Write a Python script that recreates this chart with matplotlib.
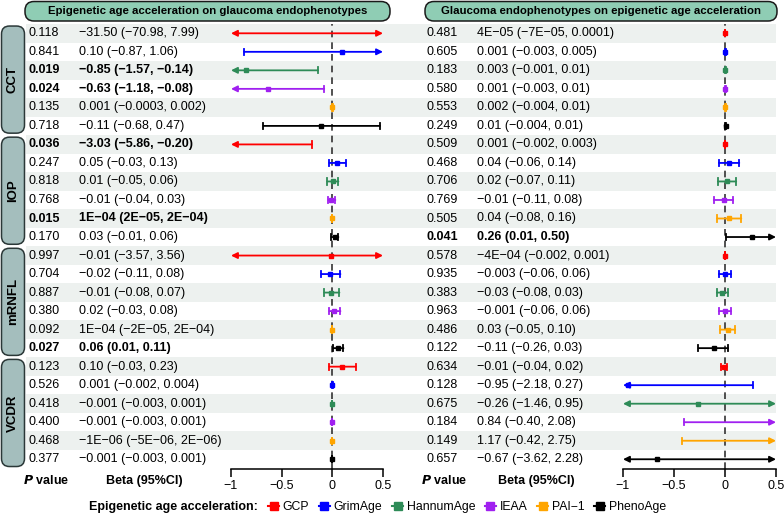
import matplotlib
matplotlib.use("Agg")
import matplotlib.pyplot as plt
from matplotlib.patches import FancyBboxPatch, Rectangle
from matplotlib.lines import Line2D

plt.rcParams['font.family'] = ['Liberation Sans', 'DejaVu Sans']

# ---- data ----
groups = ["CCT", "IOP", "mRNFL", "VCDR"]
clocks = ["GCP", "GrimAge", "HannumAge", "IEAA", "PAI\u22121", "PhenoAge"]
clock_colors = ["#FF0000", "#0000FF", "#2E8B57", "#A020F0", "#FFA500", "#000000"]

# left: epigenetic age acceleration on glaucoma endophenotypes
left_p = [0.118, 0.841, 0.019, 0.024, 0.135, 0.718,
          0.036, 0.247, 0.818, 0.768, 0.015, 0.170,
          0.997, 0.704, 0.887, 0.380, 0.092, 0.027,
          0.123, 0.526, 0.418, 0.400, 0.468, 0.377]
left_beta = [-31.50, 0.10, -0.85, -0.63, 0.001, -0.11,
             -3.03, 0.05, 0.01, -0.01, 1e-4, 0.03,
             -0.01, -0.02, -0.01, 0.02, 1e-4, 0.06,
             0.10, 0.001, -0.001, -0.001, -1e-6, -0.001]
left_lo = [-70.98, -0.87, -1.57, -1.18, -0.0003, -0.68,
           -5.86, -0.03, -0.05, -0.04, 2e-5, -0.01,
           -3.57, -0.11, -0.08, -0.03, -2e-5, 0.01,
           -0.03, -0.002, -0.003, -0.003, -5e-6, -0.003]
left_hi = [7.99, 1.06, -0.14, -0.08, 0.002, 0.47,
           -0.20, 0.13, 0.06, 0.03, 2e-4, 0.06,
           3.56, 0.08, 0.07, 0.08, 2e-4, 0.11,
           0.23, 0.004, 0.001, 0.001, 2e-6, 0.001]
left_lab = ["\u221231.50 (\u221270.98, 7.99)", "0.10 (\u22120.87, 1.06)",
            "\u22120.85 (\u22121.57, \u22120.14)", "\u22120.63 (\u22121.18, \u22120.08)",
            "0.001 (\u22120.0003, 0.002)", "\u22120.11 (\u22120.68, 0.47)",
            "\u22123.03 (\u22125.86, \u22120.20)", "0.05 (\u22120.03, 0.13)",
            "0.01 (\u22120.05, 0.06)", "\u22120.01 (\u22120.04, 0.03)",
            "1E\u221204 (2E\u221205, 2E\u221204)", "0.03 (\u22120.01, 0.06)",
            "\u22120.01 (\u22123.57, 3.56)", "\u22120.02 (\u22120.11, 0.08)",
            "\u22120.01 (\u22120.08, 0.07)", "0.02 (\u22120.03, 0.08)",
            "1E\u221204 (\u22122E\u221205, 2E\u221204)", "0.06 (0.01, 0.11)",
            "0.10 (\u22120.03, 0.23)", "0.001 (\u22120.002, 0.004)",
            "\u22120.001 (\u22120.003, 0.001)", "\u22120.001 (\u22120.003, 0.001)",
            "\u22121E\u221206 (\u22125E\u221206, 2E\u221206)", "\u22120.001 (\u22120.003, 0.001)"]

# right: glaucoma endophenotypes on epigenetic age acceleration
right_p = [0.481, 0.605, 0.183, 0.580, 0.553, 0.249,
           0.509, 0.468, 0.706, 0.769, 0.505, 0.041,
           0.578, 0.935, 0.383, 0.963, 0.486, 0.122,
           0.634, 0.128, 0.675, 0.184, 0.149, 0.657]
right_beta = [4e-5, 0.001, 0.003, 0.001, 0.002, 0.01,
              0.001, 0.04, 0.02, -0.01, 0.04, 0.26,
              -4e-4, -0.003, -0.03, -0.001, 0.03, -0.11,
              -0.01, -0.95, -0.26, 0.84, 1.17, -0.67]
right_lo = [-7e-5, -0.003, -0.001, -0.003, -0.004, -0.004,
            -0.002, -0.06, -0.07, -0.11, -0.08, 0.01,
            -0.002, -0.06, -0.08, -0.06, -0.05, -0.26,
            -0.04, -2.18, -1.46, -0.40, -0.42, -3.62]
right_hi = [0.0001, 0.005, 0.01, 0.01, 0.01, 0.01,
            0.003, 0.14, 0.11, 0.08, 0.16, 0.50,
            0.001, 0.06, 0.03, 0.06, 0.10, 0.03,
            0.02, 0.27, 0.95, 2.08, 2.75, 2.28]
right_lab = ["4E\u221205 (\u22127E\u221205, 0.0001)", "0.001 (\u22120.003, 0.005)",
             "0.003 (\u22120.001, 0.01)", "0.001 (\u22120.003, 0.01)",
             "0.002 (\u22120.004, 0.01)", "0.01 (\u22120.004, 0.01)",
             "0.001 (\u22120.002, 0.003)", "0.04 (\u22120.06, 0.14)",
             "0.02 (\u22120.07, 0.11)", "\u22120.01 (\u22120.11, 0.08)",
             "0.04 (\u22120.08, 0.16)", "0.26 (0.01, 0.50)",
             "\u22124E\u221204 (\u22120.002, 0.001)", "\u22120.003 (\u22120.06, 0.06)",
             "\u22120.03 (\u22120.08, 0.03)", "\u22120.001 (\u22120.06, 0.06)",
             "0.03 (\u22120.05, 0.10)", "\u22120.11 (\u22120.26, 0.03)",
             "\u22120.01 (\u22120.04, 0.02)", "\u22120.95 (\u22122.18, 0.27)",
             "\u22120.26 (\u22121.46, 0.95)", "0.84 (\u22120.40, 2.08)",
             "1.17 (\u22120.42, 2.75)", "\u22120.67 (\u22123.62, 2.28)"]

xticks = [-1, -0.5, 0, 0.5]
xticklabels = ["\u22121", "\u22120.5", "0", "0.5"]
XMIN, XMAX = -1, 0.5

# ---- layout (pixels) ----
W, H = 784, 515
row0, rowh = 33.3, 18.52
nrows = len(left_p)
fs = 9

fig = plt.figure(figsize=(W / 100, H / 100), dpi=100)
bg = fig.add_axes([0, 0, 1, 1])
bg.set_xlim(0, W)
bg.set_ylim(H, 0)
bg.axis("off")


def ypx(i):
    return row0 + rowh * i


# stripes
for i in range(0, nrows, 2):
    bg.add_patch(Rectangle((26, ypx(i) - rowh / 2), 750, rowh,
                           facecolor="#EDF1EF", edgecolor="none", zorder=0))

# group strip boxes
for g, name in enumerate(groups):
    top = ypx(6 * g) - rowh / 2 + 2
    bot = ypx(6 * g + 5) + rowh / 2 - 2
    bg.add_patch(FancyBboxPatch((1.5, top), 23, bot - top,
                                boxstyle="round,pad=0,rounding_size=8",
                                facecolor="#A4BEBD", edgecolor="#2B3838", lw=1.1))
    bg.text(13, (top + bot) / 2, name, rotation=90, ha="center", va="center",
            fontsize=fs + 0.5, fontweight="bold")

# title boxes
titles = [("Epigenetic age acceleration on glaucoma endophenotypes", 25, 390),
          ("Glaucoma endophenotypes on epigenetic age acceleration", 425, 777)]
for t, x0, x1 in titles:
    bg.add_patch(FancyBboxPatch((x0, 1.5), x1 - x0, 19.5,
                                boxstyle="round,pad=0,rounding_size=9",
                                facecolor="#8FCDB4", edgecolor="#1A1A1A", lw=1.1))
    bg.text((x0 + x1) / 2, 11.5, t, ha="center", va="center",
            fontsize=8.2, fontweight="bold")

# text columns
panels = [(left_p, left_lab, 29, 79), (right_p, right_lab, 427, 477)]
for pv, lab, xp, xb in panels:
    for i in range(nrows):
        w = "bold" if pv[i] < 0.05 else "normal"
        bg.text(xp, ypx(i), f"{pv[i]:.3f}", ha="left", va="center",
                fontsize=fs, fontweight=w)
        bg.text(xb, ypx(i), lab[i], ha="left", va="center",
                fontsize=fs, fontweight=w)

# column headers
for xpc, xbc in [(46.5, 144), (444.5, 536)]:
    bg.text(xpc, 481, r"$\bfit{P}$" + " value", ha="center", va="center",
            fontsize=fs, fontweight="bold")
    bg.text(xbc, 481, "Beta (95%CI)", ha="center", va="center",
            fontsize=fs, fontweight="bold")


# ---- forest panels ----
def forest(x0px, x1px, beta, lo, hi):
    top = ypx(-0.5)
    bot = ypx(nrows - 0.5)
    ax = fig.add_axes([x0px / W, 1 - bot / H, (x1px - x0px) / W, (bot - top) / H])
    ax.patch.set_alpha(0)
    ax.set_xlim(XMIN, XMAX)
    ax.set_ylim(nrows - 0.5, -0.5)
    for s in ["top", "right", "left"]:
        ax.spines[s].set_visible(False)
    ax.spines["bottom"].set_linewidth(1.1)
    ax.set_yticks([])
    ax.set_xticks(xticks)
    ax.set_xticklabels(xticklabels, fontsize=fs)
    ax.tick_params(axis="x", length=6, width=1.1, pad=2)
    ax.axvline(0, color="#333333", lw=1.2, ls=(0, (4, 3)), zorder=1)
    cap = 0.17
    for i in range(nrows):
        c = clock_colors[i % 6]
        l_c = max(lo[i], XMIN)
        h_c = min(hi[i], XMAX)
        lcl = lo[i] <= XMIN
        hcl = hi[i] >= XMAX
        if lcl and hcl:
            style = "<|-|>"
        elif lcl:
            style = "<|-"
        elif hcl:
            style = "-|>"
        else:
            style = "-"
        ax.annotate("", xy=(h_c, i), xytext=(l_c, i), annotation_clip=False,
                    arrowprops=dict(arrowstyle=style, color=c, lw=1.3,
                                    mutation_scale=9, shrinkA=0, shrinkB=0),
                    zorder=3)
        if not lcl:
            ax.plot([lo[i], lo[i]], [i - cap, i + cap], color=c, lw=1.3, zorder=3)
        if not hcl:
            ax.plot([hi[i], hi[i]], [i - cap, i + cap], color=c, lw=1.3, zorder=3)
        if XMIN <= beta[i] <= XMAX:
            ax.plot(beta[i], i, marker="s", ms=3, color=c, zorder=4)
    return ax


forest(231, 383, left_beta, left_lo, left_hi)
forest(623, 776, right_beta, right_lo, right_hi)

# ---- legend ----
bg.text(89, 507, "Epigenetic age acceleration:", ha="left", va="center",
        fontsize=fs, fontweight="bold")
handles = [Line2D([], [], color=c, marker="s", ms=6, lw=1.5) for c in clock_colors]
fig.legend(handles, clocks, loc="center left", bbox_to_anchor=(268 / W, 1 - 507 / H),
           ncol=6, frameon=False, fontsize=8.8, handlelength=0.9,
           handletextpad=0.3, columnspacing=0.8, borderpad=0, borderaxespad=0)

fig.savefig("out.png", dpi=100)
